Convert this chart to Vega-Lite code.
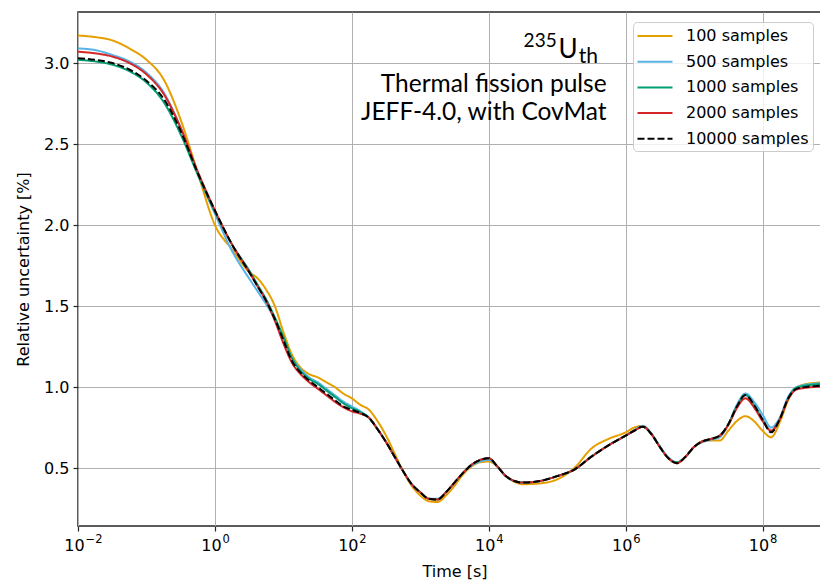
{
  "$schema": "https://vega.github.io/schema/vega-lite/v6.json",
  "width": 753,
  "height": 514,
  "autosize": {"type": "none"},
  "padding": {"left": 78, "top": 12, "right": 0, "bottom": 54},
  "background": "white",
  "config": {
    "view": {"stroke": "#262626", "strokeWidth": 1.5},
    "font": "DejaVu Sans",
    "axis": {
      "labelFont": "DejaVu Sans", "labelFontSize": 16, "labelColor": "#000000",
      "titleFont": "DejaVu Sans", "titleFontSize": 16, "titleFontWeight": "normal", "titleColor": "#000000",
      "gridColor": "#b0b0b0", "gridWidth": 1, "gridOpacity": 1,
      "domain": false, "tickColor": "#262626", "tickSize": 5, "tickWidth": 1.2, "labelPadding": 4
    },
    "legend": {
      "orient": "none", "legendX": 555, "legendY": 10,
      "fillColor": "rgba(255,255,255,0.8)", "strokeColor": "#cccccc", "cornerRadius": 4, "padding": 4,
      "labelFont": "DejaVu Sans", "labelFontSize": 16, "labelColor": "#000000",
      "symbolType": "M-2,0H2", "symbolSize": 306, "symbolStrokeWidth": 2, "symbolOffset": 8,
      "rowPadding": 7.7, "labelOffset": 21
    }
  },
  "resolve": {"axis": {"x": "independent"}},
  "datasets": {
    "curves": [
      {"s":100,"t":0.01,"v":3.17},{"s":100,"t":0.01778,"v":3.16},{"s":100,"t":0.03162,"v":3.14},{"s":100,"t":0.05623,"v":3.09},{"s":100,"t":0.1,"v":3.02},{"s":100,"t":0.1778,"v":2.9},{"s":100,"t":0.3162,"v":2.65},{"s":100,"t":0.5623,"v":2.32},{"s":100,"t":1,"v":2.0},{"s":100,"t":1.778,"v":1.85},{"s":100,"t":3.162,"v":1.71},{"s":100,"t":4.217,"v":1.67},{"s":100,"t":5.623,"v":1.6},{"s":100,"t":7.499,"v":1.5},{"s":100,"t":10,"v":1.34},{"s":100,"t":13.34,"v":1.2},{"s":100,"t":17.78,"v":1.12},{"s":100,"t":23.71,"v":1.08},{"s":100,"t":31.62,"v":1.06},{"s":100,"t":42.17,"v":1.03},{"s":100,"t":56.23,"v":1.0},{"s":100,"t":74.99,"v":0.96},{"s":100,"t":100,"v":0.93},{"s":100,"t":133.4,"v":0.89},{"s":100,"t":177.8,"v":0.86},{"s":100,"t":237.1,"v":0.79},{"s":100,"t":316.2,"v":0.7},{"s":100,"t":421.7,"v":0.59},{"s":100,"t":562.3,"v":0.48},{"s":100,"t":749.9,"v":0.39},{"s":100,"t":1000,"v":0.33},{"s":100,"t":1334,"v":0.295},{"s":100,"t":1778,"v":0.29},{"s":100,"t":2371,"v":0.33},{"s":100,"t":3162,"v":0.39},{"s":100,"t":4217,"v":0.46},{"s":100,"t":5623,"v":0.51},{"s":100,"t":7499,"v":0.535},{"s":100,"t":10000,"v":0.54},{"s":100,"t":13340,"v":0.51},{"s":100,"t":17780,"v":0.45},{"s":100,"t":23710,"v":0.415},{"s":100,"t":31620,"v":0.4},{"s":100,"t":56230,"v":0.405},{"s":100,"t":100000,"v":0.43},{"s":100,"t":177800,"v":0.5},{"s":100,"t":316200,"v":0.62},{"s":100,"t":562300,"v":0.68},{"s":100,"t":1000000,"v":0.72},{"s":100,"t":1334000,"v":0.75},{"s":100,"t":1778000,"v":0.76},{"s":100,"t":2371000,"v":0.71},{"s":100,"t":3162000,"v":0.63},{"s":100,"t":4217000,"v":0.56},{"s":100,"t":5623000,"v":0.53},{"s":100,"t":7499000,"v":0.57},{"s":100,"t":10000000,"v":0.63},{"s":100,"t":13340000,"v":0.665},{"s":100,"t":17780000,"v":0.67},{"s":100,"t":23710000,"v":0.67},{"s":100,"t":31620000,"v":0.73},{"s":100,"t":42170000,"v":0.79},{"s":100,"t":56230000,"v":0.82},{"s":100,"t":74990000,"v":0.79},{"s":100,"t":100000000,"v":0.73},{"s":100,"t":133400000,"v":0.69},{"s":100,"t":177800000,"v":0.78},{"s":100,"t":237100000,"v":0.92},{"s":100,"t":316200000,"v":1.0},{"s":100,"t":562300000,"v":1.025},{"s":100,"t":1000000000,"v":1.03},

      {"s":500,"t":0.01,"v":3.09},{"s":500,"t":0.01778,"v":3.08},{"s":500,"t":0.03162,"v":3.05},{"s":500,"t":0.05623,"v":3.01},{"s":500,"t":0.1,"v":2.94},{"s":500,"t":0.1778,"v":2.82},{"s":500,"t":0.3162,"v":2.6},{"s":500,"t":0.5623,"v":2.32},{"s":500,"t":1,"v":2.07},{"s":500,"t":1.778,"v":1.84},{"s":500,"t":3.162,"v":1.67},{"s":500,"t":4.217,"v":1.59},{"s":500,"t":5.623,"v":1.51},{"s":500,"t":7.499,"v":1.42},{"s":500,"t":10,"v":1.3},{"s":500,"t":13.34,"v":1.18},{"s":500,"t":17.78,"v":1.11},{"s":500,"t":23.71,"v":1.06},{"s":500,"t":31.62,"v":1.03},{"s":500,"t":42.17,"v":0.99},{"s":500,"t":56.23,"v":0.95},{"s":500,"t":74.99,"v":0.91},{"s":500,"t":100,"v":0.88},{"s":500,"t":133.4,"v":0.85},{"s":500,"t":177.8,"v":0.81},{"s":500,"t":237.1,"v":0.74},{"s":500,"t":316.2,"v":0.66},{"s":500,"t":421.7,"v":0.57},{"s":500,"t":562.3,"v":0.48},{"s":500,"t":749.9,"v":0.4},{"s":500,"t":1000,"v":0.35},{"s":500,"t":1334,"v":0.31},{"s":500,"t":1778,"v":0.31},{"s":500,"t":2371,"v":0.35},{"s":500,"t":3162,"v":0.41},{"s":500,"t":4217,"v":0.47},{"s":500,"t":5623,"v":0.515},{"s":500,"t":7499,"v":0.54},{"s":500,"t":10000,"v":0.55},{"s":500,"t":13340,"v":0.51},{"s":500,"t":17780,"v":0.45},{"s":500,"t":23710,"v":0.42},{"s":500,"t":31620,"v":0.41},{"s":500,"t":56230,"v":0.42},{"s":500,"t":100000,"v":0.45},{"s":500,"t":177800,"v":0.49},{"s":500,"t":316200,"v":0.57},{"s":500,"t":562300,"v":0.64},{"s":500,"t":1000000,"v":0.7},{"s":500,"t":1334000,"v":0.735},{"s":500,"t":1778000,"v":0.76},{"s":500,"t":2371000,"v":0.715},{"s":500,"t":3162000,"v":0.635},{"s":500,"t":4217000,"v":0.565},{"s":500,"t":5623000,"v":0.535},{"s":500,"t":7499000,"v":0.57},{"s":500,"t":10000000,"v":0.63},{"s":500,"t":13340000,"v":0.66},{"s":500,"t":17780000,"v":0.675},{"s":500,"t":23710000,"v":0.69},{"s":500,"t":31620000,"v":0.77},{"s":500,"t":42170000,"v":0.89},{"s":500,"t":56230000,"v":0.96},{"s":500,"t":74990000,"v":0.91},{"s":500,"t":100000000,"v":0.83},{"s":500,"t":133400000,"v":0.75},{"s":500,"t":177800000,"v":0.81},{"s":500,"t":237100000,"v":0.94},{"s":500,"t":316200000,"v":1.0},{"s":500,"t":562300000,"v":1.02},{"s":500,"t":1000000000,"v":1.025},

      {"s":1000,"t":0.01,"v":3.02},{"s":1000,"t":0.01778,"v":3.01},{"s":1000,"t":0.03162,"v":2.99},{"s":1000,"t":0.05623,"v":2.95},{"s":1000,"t":0.1,"v":2.88},{"s":1000,"t":0.1778,"v":2.76},{"s":1000,"t":0.3162,"v":2.56},{"s":1000,"t":0.5623,"v":2.31},{"s":1000,"t":1,"v":2.08},{"s":1000,"t":1.778,"v":1.88},{"s":1000,"t":3.162,"v":1.72},{"s":1000,"t":4.217,"v":1.63},{"s":1000,"t":5.623,"v":1.54},{"s":1000,"t":7.499,"v":1.43},{"s":1000,"t":10,"v":1.31},{"s":1000,"t":13.34,"v":1.18},{"s":1000,"t":17.78,"v":1.1},{"s":1000,"t":23.71,"v":1.05},{"s":1000,"t":31.62,"v":1.02},{"s":1000,"t":42.17,"v":0.98},{"s":1000,"t":56.23,"v":0.94},{"s":1000,"t":74.99,"v":0.9},{"s":1000,"t":100,"v":0.87},{"s":1000,"t":133.4,"v":0.845},{"s":1000,"t":177.8,"v":0.81},{"s":1000,"t":237.1,"v":0.74},{"s":1000,"t":316.2,"v":0.66},{"s":1000,"t":421.7,"v":0.57},{"s":1000,"t":562.3,"v":0.48},{"s":1000,"t":749.9,"v":0.4},{"s":1000,"t":1000,"v":0.35},{"s":1000,"t":1334,"v":0.31},{"s":1000,"t":1778,"v":0.305},{"s":1000,"t":2371,"v":0.35},{"s":1000,"t":3162,"v":0.41},{"s":1000,"t":4217,"v":0.47},{"s":1000,"t":5623,"v":0.52},{"s":1000,"t":7499,"v":0.55},{"s":1000,"t":10000,"v":0.56},{"s":1000,"t":13340,"v":0.51},{"s":1000,"t":17780,"v":0.45},{"s":1000,"t":23710,"v":0.42},{"s":1000,"t":31620,"v":0.41},{"s":1000,"t":56230,"v":0.42},{"s":1000,"t":100000,"v":0.45},{"s":1000,"t":177800,"v":0.49},{"s":1000,"t":316200,"v":0.57},{"s":1000,"t":562300,"v":0.64},{"s":1000,"t":1000000,"v":0.7},{"s":1000,"t":1334000,"v":0.73},{"s":1000,"t":1778000,"v":0.755},{"s":1000,"t":2371000,"v":0.71},{"s":1000,"t":3162000,"v":0.63},{"s":1000,"t":4217000,"v":0.56},{"s":1000,"t":5623000,"v":0.535},{"s":1000,"t":7499000,"v":0.57},{"s":1000,"t":10000000,"v":0.63},{"s":1000,"t":13340000,"v":0.665},{"s":1000,"t":17780000,"v":0.68},{"s":1000,"t":23710000,"v":0.7},{"s":1000,"t":31620000,"v":0.77},{"s":1000,"t":42170000,"v":0.88},{"s":1000,"t":56230000,"v":0.95},{"s":1000,"t":74990000,"v":0.89},{"s":1000,"t":100000000,"v":0.8},{"s":1000,"t":133400000,"v":0.73},{"s":1000,"t":177800000,"v":0.8},{"s":1000,"t":237100000,"v":0.93},{"s":1000,"t":316200000,"v":0.995},{"s":1000,"t":562300000,"v":1.015},{"s":1000,"t":1000000000,"v":1.02},

      {"s":2000,"t":0.01,"v":3.07},{"s":2000,"t":0.01778,"v":3.06},{"s":2000,"t":0.03162,"v":3.04},{"s":2000,"t":0.05623,"v":3.0},{"s":2000,"t":0.1,"v":2.93},{"s":2000,"t":0.1778,"v":2.81},{"s":2000,"t":0.3162,"v":2.6},{"s":2000,"t":0.5623,"v":2.33},{"s":2000,"t":1,"v":2.09},{"s":2000,"t":1.778,"v":1.88},{"s":2000,"t":3.162,"v":1.71},{"s":2000,"t":4.217,"v":1.62},{"s":2000,"t":5.623,"v":1.53},{"s":2000,"t":7.499,"v":1.41},{"s":2000,"t":10,"v":1.27},{"s":2000,"t":13.34,"v":1.15},{"s":2000,"t":17.78,"v":1.08},{"s":2000,"t":23.71,"v":1.03},{"s":2000,"t":31.62,"v":0.99},{"s":2000,"t":42.17,"v":0.95},{"s":2000,"t":56.23,"v":0.91},{"s":2000,"t":74.99,"v":0.875},{"s":2000,"t":100,"v":0.85},{"s":2000,"t":133.4,"v":0.835},{"s":2000,"t":177.8,"v":0.81},{"s":2000,"t":237.1,"v":0.74},{"s":2000,"t":316.2,"v":0.66},{"s":2000,"t":421.7,"v":0.57},{"s":2000,"t":562.3,"v":0.48},{"s":2000,"t":749.9,"v":0.4},{"s":2000,"t":1000,"v":0.35},{"s":2000,"t":1334,"v":0.31},{"s":2000,"t":1778,"v":0.305},{"s":2000,"t":2371,"v":0.35},{"s":2000,"t":3162,"v":0.41},{"s":2000,"t":4217,"v":0.47},{"s":2000,"t":5623,"v":0.52},{"s":2000,"t":7499,"v":0.55},{"s":2000,"t":10000,"v":0.56},{"s":2000,"t":13340,"v":0.51},{"s":2000,"t":17780,"v":0.45},{"s":2000,"t":23710,"v":0.42},{"s":2000,"t":31620,"v":0.41},{"s":2000,"t":56230,"v":0.42},{"s":2000,"t":100000,"v":0.45},{"s":2000,"t":177800,"v":0.49},{"s":2000,"t":316200,"v":0.57},{"s":2000,"t":562300,"v":0.64},{"s":2000,"t":1000000,"v":0.7},{"s":2000,"t":1334000,"v":0.73},{"s":2000,"t":1778000,"v":0.755},{"s":2000,"t":2371000,"v":0.71},{"s":2000,"t":3162000,"v":0.63},{"s":2000,"t":4217000,"v":0.56},{"s":2000,"t":5623000,"v":0.53},{"s":2000,"t":7499000,"v":0.57},{"s":2000,"t":10000000,"v":0.63},{"s":2000,"t":13340000,"v":0.665},{"s":2000,"t":17780000,"v":0.68},{"s":2000,"t":23710000,"v":0.7},{"s":2000,"t":31620000,"v":0.765},{"s":2000,"t":42170000,"v":0.87},{"s":2000,"t":56230000,"v":0.93},{"s":2000,"t":74990000,"v":0.875},{"s":2000,"t":100000000,"v":0.79},{"s":2000,"t":133400000,"v":0.73},{"s":2000,"t":177800000,"v":0.8},{"s":2000,"t":237100000,"v":0.925},{"s":2000,"t":316200000,"v":0.985},{"s":2000,"t":562300000,"v":1.0},{"s":2000,"t":1000000000,"v":1.005},

      {"s":10000,"t":0.01,"v":3.03},{"s":10000,"t":0.01778,"v":3.02},{"s":10000,"t":0.03162,"v":3.0},{"s":10000,"t":0.05623,"v":2.96},{"s":10000,"t":0.1,"v":2.89},{"s":10000,"t":0.1778,"v":2.78},{"s":10000,"t":0.3162,"v":2.58},{"s":10000,"t":0.5623,"v":2.32},{"s":10000,"t":1,"v":2.09},{"s":10000,"t":1.778,"v":1.88},{"s":10000,"t":3.162,"v":1.71},{"s":10000,"t":4.217,"v":1.62},{"s":10000,"t":5.623,"v":1.53},{"s":10000,"t":7.499,"v":1.42},{"s":10000,"t":10,"v":1.29},{"s":10000,"t":13.34,"v":1.16},{"s":10000,"t":17.78,"v":1.09},{"s":10000,"t":23.71,"v":1.04},{"s":10000,"t":31.62,"v":1.0},{"s":10000,"t":42.17,"v":0.96},{"s":10000,"t":56.23,"v":0.92},{"s":10000,"t":74.99,"v":0.88},{"s":10000,"t":100,"v":0.86},{"s":10000,"t":133.4,"v":0.84},{"s":10000,"t":177.8,"v":0.81},{"s":10000,"t":237.1,"v":0.74},{"s":10000,"t":316.2,"v":0.66},{"s":10000,"t":421.7,"v":0.57},{"s":10000,"t":562.3,"v":0.48},{"s":10000,"t":749.9,"v":0.4},{"s":10000,"t":1000,"v":0.35},{"s":10000,"t":1334,"v":0.31},{"s":10000,"t":1778,"v":0.305},{"s":10000,"t":2371,"v":0.35},{"s":10000,"t":3162,"v":0.41},{"s":10000,"t":4217,"v":0.47},{"s":10000,"t":5623,"v":0.52},{"s":10000,"t":7499,"v":0.55},{"s":10000,"t":10000,"v":0.56},{"s":10000,"t":13340,"v":0.51},{"s":10000,"t":17780,"v":0.45},{"s":10000,"t":23710,"v":0.42},{"s":10000,"t":31620,"v":0.41},{"s":10000,"t":56230,"v":0.42},{"s":10000,"t":100000,"v":0.45},{"s":10000,"t":177800,"v":0.49},{"s":10000,"t":316200,"v":0.57},{"s":10000,"t":562300,"v":0.64},{"s":10000,"t":1000000,"v":0.7},{"s":10000,"t":1334000,"v":0.73},{"s":10000,"t":1778000,"v":0.755},{"s":10000,"t":2371000,"v":0.71},{"s":10000,"t":3162000,"v":0.63},{"s":10000,"t":4217000,"v":0.56},{"s":10000,"t":5623000,"v":0.53},{"s":10000,"t":7499000,"v":0.57},{"s":10000,"t":10000000,"v":0.63},{"s":10000,"t":13340000,"v":0.665},{"s":10000,"t":17780000,"v":0.68},{"s":10000,"t":23710000,"v":0.7},{"s":10000,"t":31620000,"v":0.77},{"s":10000,"t":42170000,"v":0.88},{"s":10000,"t":56230000,"v":0.95},{"s":10000,"t":74990000,"v":0.89},{"s":10000,"t":100000000,"v":0.8},{"s":10000,"t":133400000,"v":0.72},{"s":10000,"t":177800000,"v":0.8},{"s":10000,"t":237100000,"v":0.93},{"s":10000,"t":316200000,"v":0.99},{"s":10000,"t":562300000,"v":1.005},{"s":10000,"t":1000000000,"v":1.01}
    ]
  },
  "layer": [
    {
      "data": {"name": "curves"},
      "mark": {"type": "line", "strokeWidth": 2, "interpolate": "monotone", "clip": true},
      "encoding": {
        "x": {
          "field": "t", "type": "quantitative",
          "scale": {"type": "log", "domain": [0.01, 1000000000], "nice": false},
          "axis": {
            "orient": "bottom",
            "title": "Time [s]", "titlePadding": 10,
            "values": [0.01, 1, 100, 10000, 1000000, 100000000],
            "labelExpr": "'10'", "labelOffset": -4, "labelPadding": 6,
            "labelFlush": false
          }
        },
        "y": {
          "field": "v", "type": "quantitative",
          "scale": {"domain": [0.142, 3.315], "nice": false, "zero": false},
          "axis": {
            "title": "Relative uncertainty [%]", "titlePadding": 12,
            "values": [0.5, 1.0, 1.5, 2.0, 2.5, 3.0], "format": ".1f"
          }
        },
        "color": {
          "field": "s", "type": "nominal",
          "scale": {"domain": [100, 500, 1000, 2000, 10000], "range": ["#E69F00", "#56B4E9", "#009E73", "#D62728", "#000000"]},
          "legend": {"title": null, "labelExpr": "datum.label + ' samples'"}
        },
        "strokeDash": {
          "field": "s", "type": "nominal",
          "scale": {"domain": [100, 500, 1000, 2000, 10000], "range": [[1, 0], [1, 0], [1, 0], [1, 0], [7, 3]]},
          "legend": {"title": null, "labelExpr": "datum.label + ' samples'"}
        },
        "order": {"field": "t", "type": "quantitative"}
      }
    },
    {
      "data": {"values": [{}]},
      "mark": {"type": "text", "font": "Lato", "fontSize": 19, "align": "right", "baseline": "alphabetic", "color": "#000000"},
      "encoding": {
        "x": {
          "datum": 98300, "type": "quantitative",
          "axis": {
            "orient": "bottom", "title": null, "grid": false, "ticks": true, "tickOpacity": 0, "domain": false,
            "values": [0.01, 1, 100, 10000, 1000000, 100000000],
            "labelExpr": "datum.value < 0.1 ? '−2' : datum.value < 10 ? '0' : datum.value < 1000 ? '2' : datum.value < 100000 ? '4' : datum.value < 10000000 ? '6' : '8'",
            "labelFontSize": 11.5, "labelAlign": "left", "labelOffset": 7, "labelPadding": 2, "labelFlush": false
          }
        },
        "y": {"datum": 3.099, "type": "quantitative"},
        "text": {"value": "235"}
      }
    },
    {
      "data": {"values": [{}]},
      "mark": {"type": "text", "font": "Lato", "fontSize": 26, "align": "right", "baseline": "alphabetic", "color": "#000000"},
      "encoding": {
        "x": {"datum": 199000, "type": "quantitative", "axis": null},
        "y": {"datum": 3.031, "type": "quantitative"},
        "text": {"value": "U"}
      }
    },
    {
      "data": {"values": [{}]},
      "mark": {"type": "text", "font": "Lato", "fontSize": 21, "align": "left", "baseline": "alphabetic", "color": "#000000"},
      "encoding": {
        "x": {"datum": 206000, "type": "quantitative", "axis": null},
        "y": {"datum": 3.0, "type": "quantitative"},
        "text": {"value": "th"}
      }
    },
    {
      "data": {"values": [{}]},
      "mark": {"type": "text", "font": "Lato", "fontSize": 24.5, "align": "right", "baseline": "alphabetic", "color": "#000000"},
      "encoding": {
        "x": {"datum": 528000, "type": "quantitative", "axis": null},
        "y": {"datum": 2.824, "type": "quantitative"},
        "text": {"value": "Thermal fission pulse"}
      }
    },
    {
      "data": {"values": [{}]},
      "mark": {"type": "text", "font": "Lato", "fontSize": 24.5, "align": "right", "baseline": "alphabetic", "color": "#000000"},
      "encoding": {
        "x": {"datum": 528000, "type": "quantitative", "axis": null},
        "y": {"datum": 2.648, "type": "quantitative"},
        "text": {"value": "JEFF-4.0, with CovMat"}
      }
    }
  ]
}
